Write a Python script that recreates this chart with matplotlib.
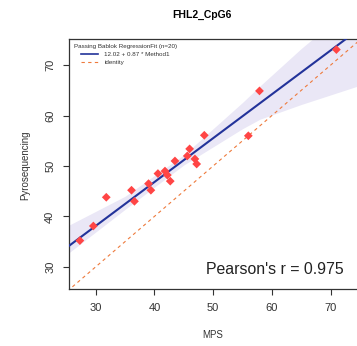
import numpy as np
import matplotlib
matplotlib.use("Agg")
import matplotlib.pyplot as plt
from matplotlib.lines import Line2D

plt.rcParams['font.family'] = ['Liberation Sans', 'DejaVu Sans']

# MPS vs pyrosequencing methylation values
mps = [27.3, 29.6, 31.8, 36.1, 36.6, 39.0, 39.4, 40.6, 41.8, 42.2,
       42.7, 43.5, 45.6, 46.0, 46.9, 47.2, 48.5, 56.0, 57.9, 71.0]
pyro = [35.2, 38.1, 43.8, 45.2, 43.0, 46.5, 45.2, 48.5, 49.0, 48.2,
        47.0, 51.0, 52.0, 53.4, 51.4, 50.4, 56.1, 56.0, 64.9, 73.1]

# Passing-Bablok fit
intercept = 12.02
slope = 0.87

# confidence band around the fit
band_x = [25.0, 35.0, 45.0, 55.0, 58.0, 65.0, 75.0]
band_lo = [32.4, 41.4, 50.2, 57.4, 59.3, 62.2, 66.0]
band_hi = [38.0, 44.0, 52.2, 62.6, 65.9, 73.3, 83.0]

pearson_r = 0.975

fig = plt.figure(figsize=(3.57, 3.46), dpi=100)
ax = fig.add_axes([69 / 357, 1 - 289 / 346, 290 / 357, 250 / 346])

xlim = (25.45, 25.45 + 290 / 5.87)
ylim = (25.6, 75.2)

ax.fill_between(band_x, band_lo, band_hi, color='#eae7f6', lw=0, zorder=1)

xx = np.array([20, 80])
ax.plot(xx, xx, color='#ee7a3c', lw=0.8, dashes=(3, 3), zorder=2)
ax.plot(xx, intercept + slope * xx, color='#23339a', lw=1.5, zorder=3)

ax.scatter(mps, pyro, marker='D', s=20, color='#ff4545', edgecolors='none', zorder=4)

ax.set_xlim(*xlim)
ax.set_ylim(*ylim)
ax.set_xticks([30, 40, 50, 60, 70])
ax.set_yticks([30, 40, 50, 60, 70])
ax.tick_params(axis='both', labelsize=8, length=4, width=0.8, pad=6, colors='#333333')
for lab in ax.get_yticklabels():
    lab.set_rotation(90)
    lab.set_va('center')

for s in ['left', 'bottom', 'top']:
    ax.spines[s].set_color('#333333')
    ax.spines[s].set_linewidth(0.9)
ax.spines['right'].set_visible(False)

handles = [Line2D([], [], color='#23339a', lw=1.2),
           Line2D([], [], color='#ee7a3c', lw=0.8, dashes=(3, 3))]
labels = ['%.2f + %.2f * Method1' % (intercept, slope), 'identity']
leg = ax.legend(handles, labels, title='Passing Bablok RegressionFit (n=%d)' % len(mps),
                loc='upper left', bbox_to_anchor=(0.0, 1.0), frameon=False,
                fontsize=4.5, title_fontsize=4.5, handlelength=2.6,
                handletextpad=1.1, labelspacing=0.45, borderaxespad=0.4)
leg.get_title().set_color('#333333')
for t in leg.get_texts():
    t.set_color('#333333')

ax.text(0.948, 0.079, "Pearson's r = %.3f" % pearson_r, transform=ax.transAxes,
        ha='right', va='center', fontsize=11.4, color='#222222')

fig.text(202 / 357, 1 - 15 / 346, 'FHL2_CpG6', ha='center', va='center',
         fontsize=7.5, fontweight='bold')
fig.text(213 / 357, 1 - 334.5 / 346, 'MPS', ha='center', va='center',
         fontsize=7, color='#333333')
fig.text(25 / 357, 1 - 165 / 346, 'Pyrosequencing', ha='center', va='center',
         rotation=90, fontsize=7, color='#333333')

fig.savefig('out.png', dpi=100)
